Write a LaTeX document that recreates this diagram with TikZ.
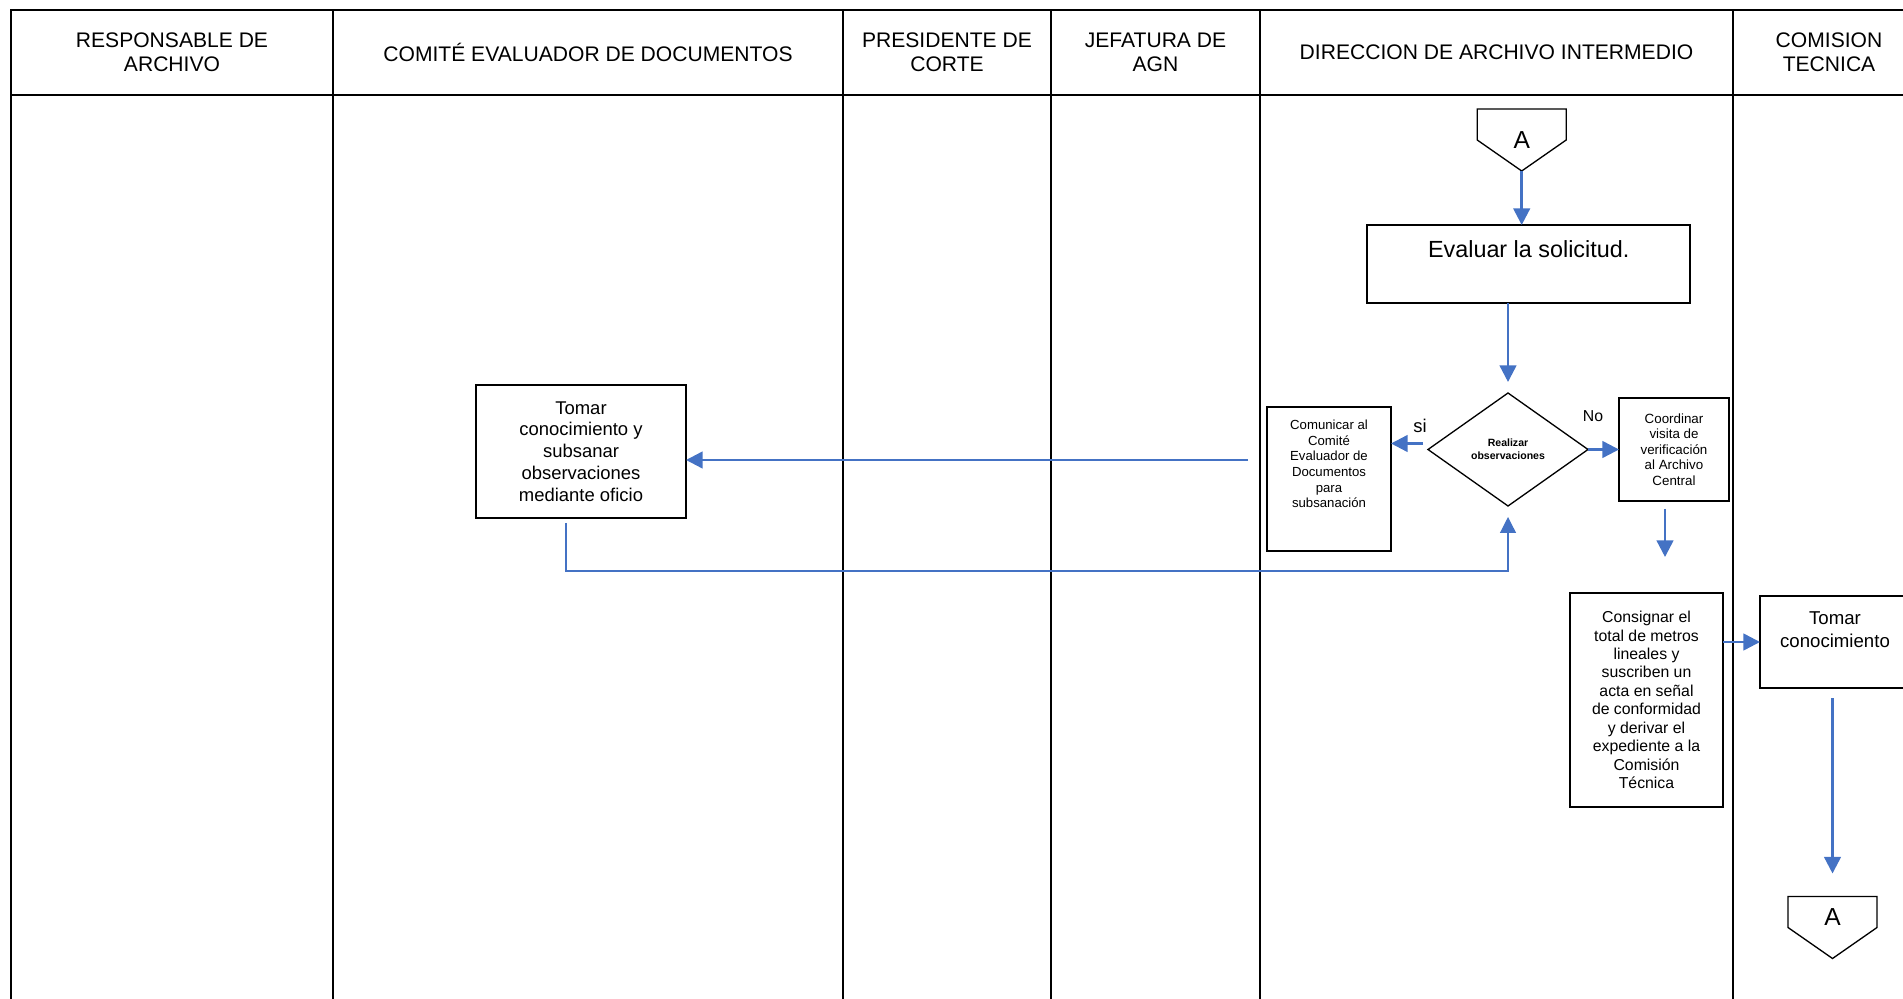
\documentclass[tikz,border=0pt]{standalone}
\usepackage{fontspec}
\setmainfont{Liberation Sans}
\usetikzlibrary{positioning,shapes.geometric,arrows.meta}

\definecolor{flowblue}{RGB}{68,114,196}
\newcommand{\px}{0.02cm}

\tikzset{
	lane/.style={line width=1pt},
	head/.style={align=center, font=\fontsize{12}{13.6}\selectfont},
	box/.style={draw, line width=0.75pt, inner sep=0pt, outer sep=0pt, align=center},
	decision/.style={diamond, draw, line width=0.75pt, inner sep=0pt, outer sep=0pt, align=center,
		minimum width=160*\px, minimum height=113*\px, font=\bfseries\fontsize{6}{7.2}\selectfont},
	offpage/.style={inner sep=0pt, outer sep=0pt, minimum width=89*\px, minimum height=62*\px,
		font=\fontsize{14}{16}\selectfont},
	lbl/.style={inner sep=0pt, font=\fontsize{9}{10}\selectfont},
	flow/.style={draw=flowblue, line width=1.4pt, -{Triangle[length=9.5pt,width=9.5pt]}},
	thinflow/.style={draw=flowblue, line width=0.7pt, -{Triangle[length=9pt,width=9pt]}}
}

\begin{document}
\begin{tikzpicture}[x=\px, y=-\px]
	\useasboundingbox (0,0) rectangle (1903,999);

	% lanes
	\draw[lane] (11,999) -- (11,10) -- (1903,10);
	\draw[lane] (11,95) -- (1903,95);
	\foreach \lx in {333,843,1051,1260,1733}
		\draw[lane] (\lx,10) -- (\lx,999);

	\node[head] (resp)   at (172,52.5)    {RESPONSABLE DE\\ARCHIVO};
	\node[head] (comite) at (588,52.5)    {COMITÉ EVALUADOR DE DOCUMENTOS};
	\node[head] (pres)   at (947,52.5)    {PRESIDENTE DE\\CORTE};
	\node[head] (jefat)  at (1155.5,52.5) {JEFATURA DE\\AGN};
	\node[head] (direc)  at (1496.5,52.5) {DIRECCION DE ARCHIVO INTERMEDIO};
	\node[head] (comis)  at (1829,52.5)   {COMISION\\TECNICA};

	% steps
	\node[offpage] (conA) at (1521.7,140) {A};
	\draw[line width=0.75pt] (conA.north west) -- (conA.north east) -- (conA.east)
		-- (conA.south) -- (conA.west) -- cycle;

	\node[box, minimum width=323*\px, minimum height=78*\px] (eval) at (1528.5,264) {};
	\node[font=\fontsize{13.3}{16}\selectfont] (evaltxt) at (1528.7,249) {Evaluar la solicitud.};

	\node[decision] (obs) at (1508,449.5) {Realizar\\observaciones};

	\node[box, minimum width=124*\px, minimum height=144*\px] (comu) at (1329,479) {};
	\node[align=center, font=\fontsize{7.5}{8.9}\selectfont] (comutxt) at (1329,464)
		{Comunicar al\\Comité\\Evaluador de\\Documentos\\para\\subsanación};

	\node[box, minimum width=110*\px, minimum height=103*\px, font=\fontsize{7.6}{8.85}\selectfont]
		(coord) at (1674,449.5) {Coordinar\\visita de\\verificación\\al Archivo\\Central};

	\node[box, minimum width=210*\px, minimum height=133*\px, font=\fontsize{10.5}{12.4}\selectfont]
		(subsan) at (581,451.5) {Tomar\\conocimiento y\\subsanar\\observaciones\\mediante oficio};

	\node[box, minimum width=153*\px, minimum height=214*\px, font=\fontsize{9}{10.5}\selectfont]
		(consig) at (1646.5,700) {Consignar el\\total de metros\\lineales y\\suscriben un\\acta en señal\\de conformidad\\y derivar el\\expediente a la\\Comisión\\Técnica};

	\node[box, minimum width=145*\px, minimum height=92*\px] (conoc) at (1832.5,642) {};
	\node[align=center, font=\fontsize{10.6}{13.2}\selectfont] (conoctxt) at (1835,630) {Tomar\\conocimiento};

	\node[offpage] (conB) at (1832.5,927.5) {};
	\draw[line width=0.75pt] (conB.north west) -- (conB.north east) -- (conB.east)
		-- (conB.south) -- (conB.west) -- cycle;
	\node[font=\fontsize{14}{16}\selectfont] (conBtxt) at (1832.5,917) {A};

	\node[lbl, font=\fontsize{10.5}{12}\selectfont] (si) at (1420,426) {si};
	\node[lbl] (no) at (1593,416) {No};

	% connectors
	\coordinate (back) at (1248,460);
	\coordinate (fbstart) at (566,523);
	\coordinate (fbturn) at (566,571);

	\draw[flow] (conA.south) -- (conA.south |- eval.north);
	\draw[flow] (eval.south -| obs.north) -- ([yshift=11*\px]obs.north);
	\draw[flow] ([xshift=-5*\px, yshift=6*\px]obs.west) -- ([yshift=6*\px]obs.west -| comu.east);
	\draw[flow] (obs.east) -- (obs.east -| coord.west);
	\draw[flow] ([xshift=-9*\px, yshift=-8*\px]coord.south) -- ++(0,48);
	\draw[flow] (conoc.west -| consig.east) -- (conoc.west);
	\draw[flow] ([yshift=-10*\px]conoc.south -| conB.north) -- ([yshift=23*\px]conB.north);
	\draw[flow] (back) -- (back -| subsan.east);
	\draw[thinflow] (fbstart) -- (fbturn) -| ([yshift=-11*\px]obs.south);
\end{tikzpicture}
\end{document}
